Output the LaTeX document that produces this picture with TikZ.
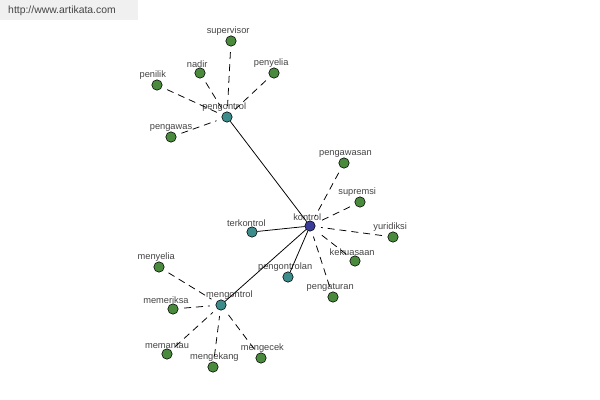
\documentclass[tikz,border=0pt]{standalone}
\usepackage{fontspec}
\setmainfont{Liberation Sans}
\usepackage{tikz}

\definecolor{leafgreen}{HTML}{4A8A3C}
\definecolor{hubteal}{HTML}{3C8C8C}
\definecolor{rootblue}{HTML}{3A3C9A}
\definecolor{lbltext}{HTML}{444444}

\begin{document}
\begin{tikzpicture}[x=0.025cm,y=-0.025cm,
    lbl/.style={draw=none,fill=none,rectangle,inner sep=1pt,text=lbltext,
      font=\fontsize{6.6}{7}\selectfont,xshift=-2pt},
    every label/.style={label distance=-1.2pt},
    leaf/.style={circle,draw=black,line width=0.4pt,fill=leafgreen,minimum size=0.26cm,inner sep=0pt},
    hub/.style={leaf,fill=hubteal},
    root/.style={leaf,fill=rootblue}]
    \useasboundingbox (0,0) rectangle (600,400);
    \fill[gray!12] (0,0) rectangle (138,20);
    \node[text=lbltext,font=\fontsize{7.4}{8}\selectfont] (site) at (62,11) {http://www.artikata.com};

    % hubs
    \node[root,label={[lbl]above:kontrol}] (kontrol) at (310,226) {};
    \node[hub,label={[lbl]above:pengontrol}] (pengontrol) at (227,117) {};
    \node[hub,label={[lbl,xshift=-2pt]above:terkontrol}] (terkontrol) at (252,232) {};
    \node[hub,label={[lbl]above:pengontrolan}] (pengontrolan) at (288,277) {};
    \node[hub,label={[lbl,xshift=8pt]above:mengontrol}] (mengontrol) at (221,305) {};

    % leaves of pengontrol
    \node[leaf,label={[lbl]above:supervisor}] (supervisor) at (231,41) {};
    \node[leaf,label={[lbl]above:nadir}] (nadir) at (200,73) {};
    \node[leaf,label={[lbl]above:penyelia}] (penyelia) at (274,73) {};
    \node[leaf,label={[lbl,xshift=-1pt]above:penilik}] (penilik) at (157,85) {};
    \node[leaf,label={[lbl,xshift=2pt]above:pengawas}] (pengawas) at (171,137) {};

    % leaves of kontrol
    \node[leaf,label={[lbl,xshift=3pt]above:pengawasan}] (pengawasan) at (344,163) {};
    \node[leaf,label={[lbl]above:supremsi}] (supremsi) at (360,202) {};
    \node[leaf,label={[lbl]above:yuridiksi}] (yuridiksi) at (393,237) {};
    \node[leaf,label={[lbl]above:kekuasaan}] (kekuasaan) at (355,261) {};
    \node[leaf,label={[lbl]above:pengaturan}] (pengaturan) at (333,297) {};

    % leaves of mengontrol
    \node[leaf,label={[lbl]above:menyelia}] (menyelia) at (159,267) {};
    \node[leaf,label={[lbl,xshift=-3pt]above:memeriksa}] (memeriksa) at (173,309) {};
    \node[leaf,label={[lbl,xshift=2pt]above:memantau}] (memantau) at (167,354) {};
    \node[leaf,label={[lbl,xshift=3pt]above:mengekang}] (mengekang) at (213,367) {};
    \node[leaf,label={[lbl,xshift=3pt]above:mengecek}] (mengecek) at (261,358) {};

    \begin{scope}[every edge/.style={draw=black,line width=0.55pt}]
      \path (kontrol) edge (pengontrol);
      \path (kontrol) edge (terkontrol);
      \path (kontrol) edge (pengontrolan);
      \path (kontrol) edge (mengontrol);
    \end{scope}

    \begin{scope}[every edge/.style={draw=black,line width=0.55pt,
        dash pattern=on 5pt off 3.5pt,shorten <=4pt,shorten >=4pt}]
      \foreach \leaf in {supervisor,nadir,penyelia,penilik,pengawas}
        \path (\leaf) edge (pengontrol);
      \foreach \leaf in {pengawasan,supremsi,yuridiksi,kekuasaan,pengaturan}
        \path (\leaf) edge (kontrol);
      \foreach \leaf in {menyelia,memeriksa,memantau,mengekang,mengecek}
        \path (\leaf) edge (mengontrol);
    \end{scope}
\end{tikzpicture}
\end{document}
